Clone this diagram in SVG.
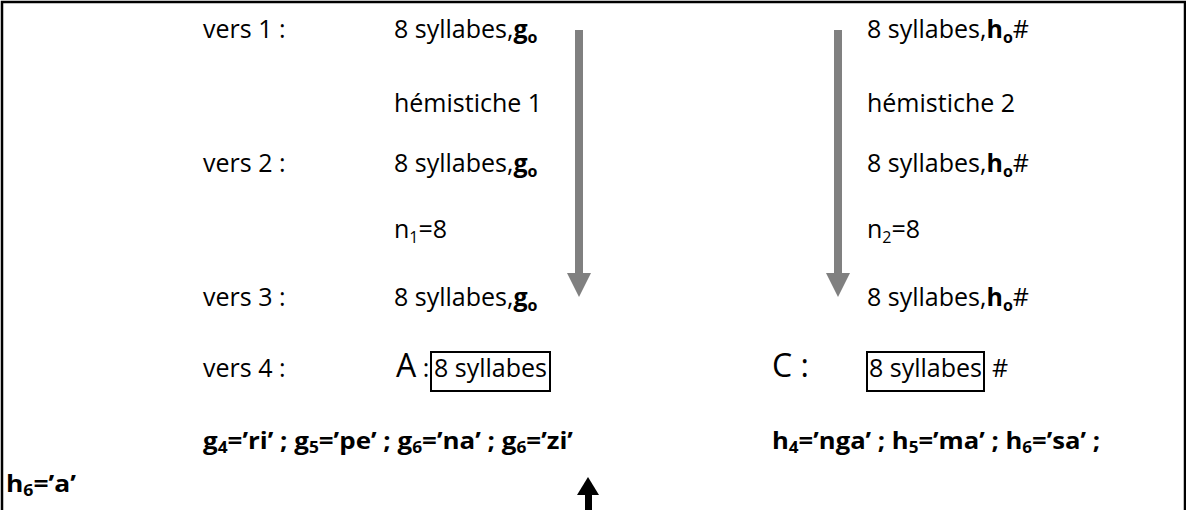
<svg xmlns="http://www.w3.org/2000/svg" width="1186" height="510" viewBox="0 0 1186 510">
<style>
text{font-family:"Open Sans","Liberation Sans",sans-serif;font-size:25px;fill:#000}
.b{font-weight:bold}
.s{font-size:16px}
.bl{font-weight:bold;font-size:24px}
.big{font-size:32px}
.gray{fill:#808080}
.box{fill:none;stroke:#000;stroke-width:2}
</style>
<rect x="0" y="0" width="1186" height="510" fill="#fff"/>
<path d="M2,510 V2 H1185 V510" fill="none" stroke="#000" stroke-width="2.5"/>
<g id="connectors">
<g id="arrow1"><rect class="gray" x="575" y="30" width="8" height="244"/><polygon class="gray" points="567,273 591,273 579,297"/></g>
<g id="arrow2"><rect class="gray" x="834" y="30" width="8" height="244"/><polygon class="gray" points="826,273 850,273 838,297"/></g>
<g id="arrow3"><rect x="585" y="494" width="7" height="16" fill="#000"/><polygon points="577,495 599,495 588,477" fill="#000"/></g>
</g>
<g id="labels">
<text x="203" y="38">vers 1 :</text>
<text x="203" y="172">vers 2 :</text>
<text x="203" y="306">vers 3 :</text>
<text x="203" y="377">vers 4 :</text>
</g>
<g id="hemistiche1">
<text x="394" y="38">8 syllabes,<tspan class="b">g</tspan><tspan class="b s" dy="5">o</tspan></text>
<text x="394" y="112">hémistiche 1</text>
<text x="394" y="172">8 syllabes,<tspan class="b">g</tspan><tspan class="b s" dy="5">o</tspan></text>
<text x="394" y="238">n<tspan class="s" dy="5">1</tspan><tspan dy="-5">=8</tspan></text>
<text x="394" y="306">8 syllabes,<tspan class="b">g</tspan><tspan class="b s" dy="5">o</tspan></text>
</g>
<g id="hemistiche2">
<text x="867" y="38">8 syllabes,<tspan class="b">h</tspan><tspan class="b s" dy="5">o</tspan><tspan dy="-5">#</tspan></text>
<text x="867" y="112">hémistiche 2</text>
<text x="867" y="172">8 syllabes,<tspan class="b">h</tspan><tspan class="b s" dy="5">o</tspan><tspan dy="-5">#</tspan></text>
<text x="867" y="238">n<tspan class="s" dy="5">2</tspan><tspan dy="-5">=8</tspan></text>
<text x="867" y="306">8 syllabes,<tspan class="b">h</tspan><tspan class="b s" dy="5">o</tspan><tspan dy="-5">#</tspan></text>
</g>
<g id="vers4A">
<text x="396" y="377"><tspan class="big">A</tspan> :</text>
<rect class="box" x="431" y="352" width="119" height="39"/>
<text x="434" y="377">8 syllabes</text>
</g>
<g id="vers4C">
<text x="772" y="377" class="big">C :</text>
<rect class="box" x="867" y="352" width="117" height="39"/>
<text x="869" y="377">8 syllabes</text>
<text x="992" y="377">#</text>
</g>
<g id="gvalues">
<text class="bl" x="203" y="449" textLength="370" lengthAdjust="spacingAndGlyphs">g<tspan class="s" dy="4">4</tspan><tspan dy="-4">=’ri’ ; g</tspan><tspan class="s" dy="4">5</tspan><tspan dy="-4">=’pe’ ; g</tspan><tspan class="s" dy="4">6</tspan><tspan dy="-4">=’na’ ; g</tspan><tspan class="s" dy="4">6</tspan><tspan dy="-4">=’zi’</tspan></text>
</g>
<g id="hvalues">
<text class="bl" x="772" y="449" textLength="328" lengthAdjust="spacingAndGlyphs">h<tspan class="s" dy="4">4</tspan><tspan dy="-4">=’nga’ ; h</tspan><tspan class="s" dy="4">5</tspan><tspan dy="-4">=’ma’ ; h</tspan><tspan class="s" dy="4">6</tspan><tspan dy="-4">=’sa’ ;</tspan></text>
<text class="bl" x="6" y="492" textLength="70" lengthAdjust="spacingAndGlyphs">h<tspan class="s" dy="4">6</tspan><tspan dy="-4">=’a’</tspan></text>
</g>
</svg>
